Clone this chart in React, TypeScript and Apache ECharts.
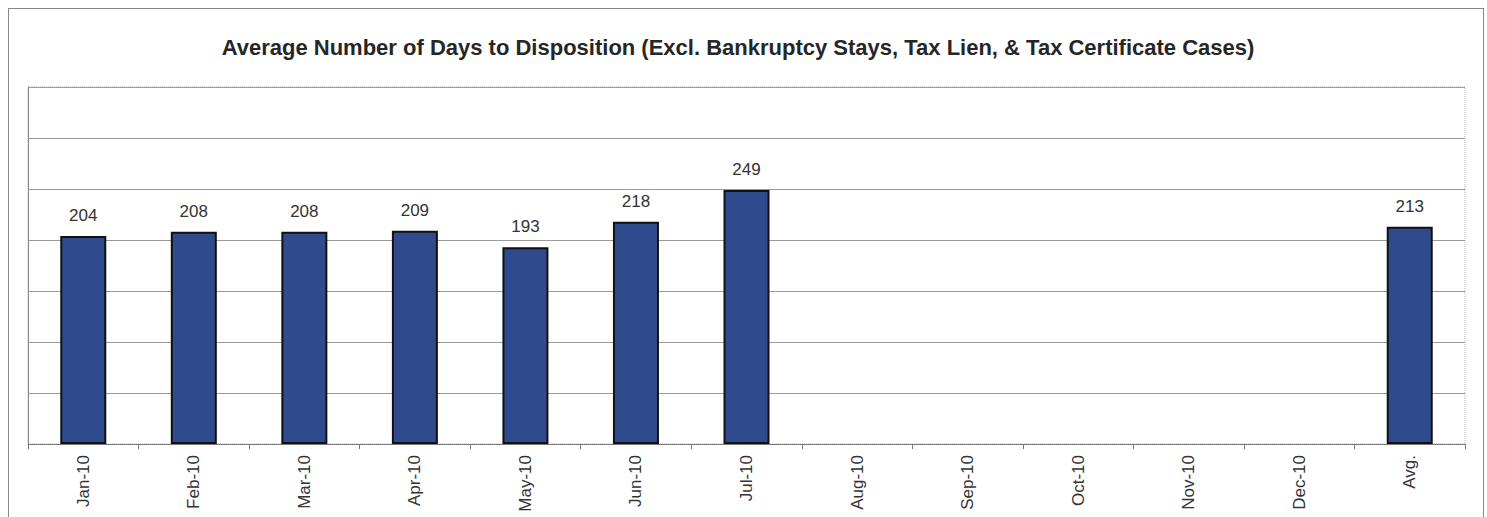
import React, { useEffect, useRef } from "react";
import * as echarts from "echarts";

const categories = ["Jan-10", "Feb-10", "Mar-10", "Apr-10", "May-10", "Jun-10", "Jul-10", "Aug-10", "Sep-10", "Oct-10", "Nov-10", "Dec-10", "Avg."];
const values: (number | null)[] = [204, 208, 208, 209, 193, 218, 249, null, null, null, null, null, 213];
const titleText = "Average Number of Days to Disposition (Excl. Bankruptcy Stays, Tax Lien, & Tax Certificate Cases)";

export default function App() {
  const ref = useRef<HTMLDivElement>(null);
  useEffect(() => {
    if (!ref.current) return;
    const chart = echarts.init(ref.current, null, { renderer: "svg" });
    chart.setOption({
      animation: false,
      backgroundColor: "#fff",
      title: {
        text: titleText,
        left: 724,
        textAlign: "center",
        top: 22,
        textStyle: { fontFamily: "Arial, Liberation Sans", fontSize: 22, fontWeight: "bold", color: "#262626" },
      },
      grid: {
        left: 19,
        right: 18,
        top: 78,
        bottom: 74,
        show: true,
        borderColor: "#b0b0b0",
        borderType: "dotted",
        borderWidth: 1,
      },
      xAxis: {
        type: "category",
        data: categories,
        boundaryGap: true,
        axisLine: { show: true, lineStyle: { color: "#777", width: 1 } },
        axisTick: { show: true, length: 5, lineStyle: { color: "#777" } },
        axisLabel: {
          rotate: 90,
          margin: 11,
          fontFamily: "Arial, Liberation Sans",
          fontSize: 17,
          color: "#333",
          interval: 0,
        },
      },
      yAxis: {
        type: "value",
        min: 0,
        max: 350,
        interval: 50,
        axisLine: { show: true, lineStyle: { color: "#888", width: 1 } },
        axisTick: { show: false },
        axisLabel: { show: false },
        splitLine: { show: true, lineStyle: { color: "#9a9a9a", width: 1 } },
      },
      series: [
        {
          type: "bar",
          data: values,
          barWidth: 46,
          itemStyle: { color: "#2F4B8E", borderColor: "#111", borderWidth: 2 },
          label: {
            show: true,
            position: "top",
            distance: 12,
            fontFamily: "Arial, Liberation Sans",
            fontSize: 17,
            color: "#333",
          },
        },
      ],
    });
    return () => chart.dispose();
  }, []);
  return (
    <div
      style={{
        position: "fixed",
        left: 8,
        top: 8,
        width: 1474,
        height: 509,
        borderTop: "1px solid #888",
        borderLeft: "1px solid #888",
        borderRight: "1px solid #888",
        background: "#fff",
      }}
    >
      <div ref={ref} style={{ width: 1474, height: 509 }} />
    </div>
  );
}
